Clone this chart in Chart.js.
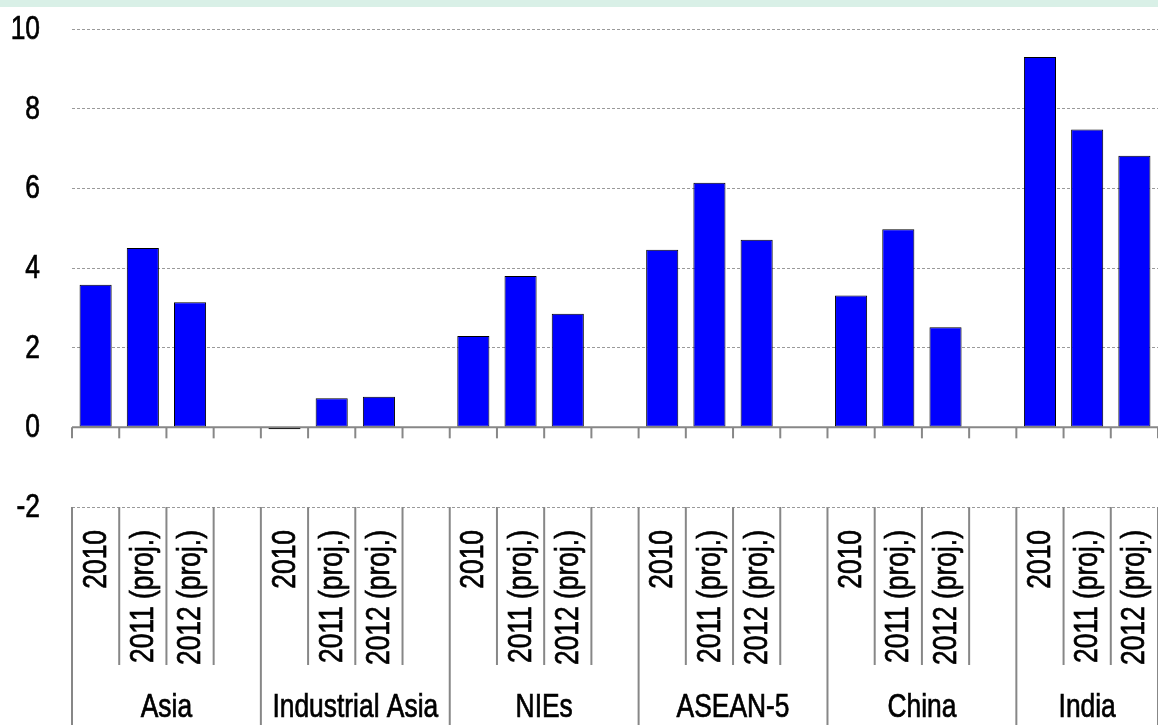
<!DOCTYPE html>
<html>
<head>
<meta charset="utf-8">
<script src="https://cdn.jsdelivr.net/npm/chart.js@4/dist/chart.umd.min.js"></script>
<style>
  html, body { margin: 0; padding: 0; background: #fff; overflow: hidden; }
  #wrap { width: 1158px; height: 725px; position: relative; }
</style>
</head>
<body>
<div id="wrap"><canvas id="c" width="1158" height="725"></canvas></div>
<script>
// ---- Data ----
const groups = ['Asia', 'Industrial Asia', 'NIEs', 'ASEAN-5', 'China', 'India'];
const years = ['2010', '2011 (proj.)', '2012 (proj.)'];
const values2010 = [3.58, -0.05, 2.29, 4.46, 3.31, 9.30];
const values2011 = [4.50, 0.73, 3.80, 6.14, 4.97, 7.48];
const values2012 = [3.14, 0.77, 2.85, 4.71, 2.51, 6.82];
const yTicks = [-2, 0, 2, 4, 6, 8, 10];

// Build slot labels / values (3 bars + 1 empty gap per group; last group has no trailing gap)
const slotLabels = [];
const slotValues = [];
groups.forEach((g, gi) => {
  const vals = [values2010[gi], values2011[gi], values2012[gi]];
  years.forEach((yr, yi) => { slotLabels.push(yr); slotValues.push(vals[yi]); });
  if (gi < groups.length - 1) { slotLabels.push(''); slotValues.push(null); }
});

const FONT = '"Liberation Sans", Arial, sans-serif';
const FONT_SIZE = 33;
const SX = 0.8; // horizontal compression to mimic a condensed face

function condensedText(ctx, text, x, y, align, baseline, angle) {
  ctx.save();
  ctx.translate(x, y);
  if (angle) ctx.rotate(angle);
  ctx.scale(SX, 1);
  ctx.textAlign = align;
  ctx.textBaseline = baseline;
  ctx.fillText(text, 0, 0);
  ctx.strokeText(text, 0, 0);
  ctx.restore();
}

const multiLevelAxis = {
  id: 'multiLevelAxis',
  beforeDraw(chart) {
    const ctx = chart.ctx;
    ctx.save();
    ctx.fillStyle = '#ffffff';
    ctx.fillRect(0, 0, chart.width, chart.height);
    ctx.fillStyle = '#d9f0e7';
    ctx.fillRect(0, 0, chart.width, 7);
    ctx.restore();
  },
  afterDatasetsDraw(chart) {
    const { ctx, chartArea: ca, scales: { x, y } } = chart;
    const n = slotLabels.length;
    const slot = x.getPixelForValue(1) - x.getPixelForValue(0);
    const edge = i => x.getPixelForValue(0) - slot / 2 + i * slot;
    const y0 = y.getPixelForValue(0);
    ctx.save();
    ctx.strokeStyle = '#878787';
    ctx.lineWidth = 2;
    const line = (x1, y1, x2, y2) => { ctx.beginPath(); ctx.moveTo(x1, y1); ctx.lineTo(x2, y2); ctx.stroke(); };
    // zero axis line + tick marks
    line(ca.left, y0, ca.right, y0);
    for (let i = 0; i <= n; i++) line(edge(i), y0, edge(i), y0 + 11);
    // label area separators
    for (let i = 0; i <= n; i++) {
      const isGroupEdge = (i % 4 === 0) || i === n;
      line(edge(i), ca.bottom, edge(i), isGroupEdge ? chart.height : 665);
    }
    ctx.fillStyle = '#000';
    ctx.strokeStyle = '#000';
    ctx.lineWidth = 0.7;
    ctx.font = FONT_SIZE + 'px ' + FONT;
    // y-axis tick labels
    yTicks.forEach(v => {
      condensedText(ctx, String(v), 40, y.getPixelForValue(v) + 1, 'right', 'middle', 0);
    });
    // slot labels (rotated)
    for (let i = 0; i < n; i++) {
      if (!slotLabels[i]) continue;
      condensedText(ctx, slotLabels[i], x.getPixelForValue(i) + 1, 530, 'right', 'middle', -Math.PI / 2);
    }
    // group labels
    groups.forEach((g, gi) => {
      const l = edge(gi * 4);
      const r = Math.min(edge(Math.min(gi * 4 + 4, n)), ca.right);
      condensedText(ctx, g, (l + r) / 2, 717, 'center', 'alphabetic', 0);
    });
    ctx.restore();
  }
};

new Chart(document.getElementById('c'), {
  type: 'bar',
  data: {
    labels: slotLabels,
    datasets: [{
      data: slotValues,
      backgroundColor: '#0000ff',
      borderColor: '#000000',
      borderWidth: 1,
      borderSkipped: false,
      categoryPercentage: 1.0,
      barPercentage: 0.68
    }]
  },
  options: {
    responsive: false,
    animation: false,
    devicePixelRatio: 1,
    layout: { padding: { top: 29, bottom: 218, left: 0, right: 0 } },
    plugins: { legend: { display: false }, tooltip: { enabled: false } },
    scales: {
      x: { display: false, offset: true },
      y: {
        min: -2, max: 10,
        afterBuildTicks(scale) { scale.ticks = yTicks.map(v => ({ value: v })); },
        afterFit(scale) { scale.width = 72; },
        ticks: { display: false },
        grid: {
          drawTicks: false,
          lineWidth: 1,
          color: ctx => (ctx.tick && ctx.tick.value === 0) ? 'rgba(0,0,0,0)' : '#9a9a9a'
        },
        border: { display: false, dash: [3, 2] }
      }
    }
  },
  plugins: [multiLevelAxis]
});
</script>
</body>
</html>
